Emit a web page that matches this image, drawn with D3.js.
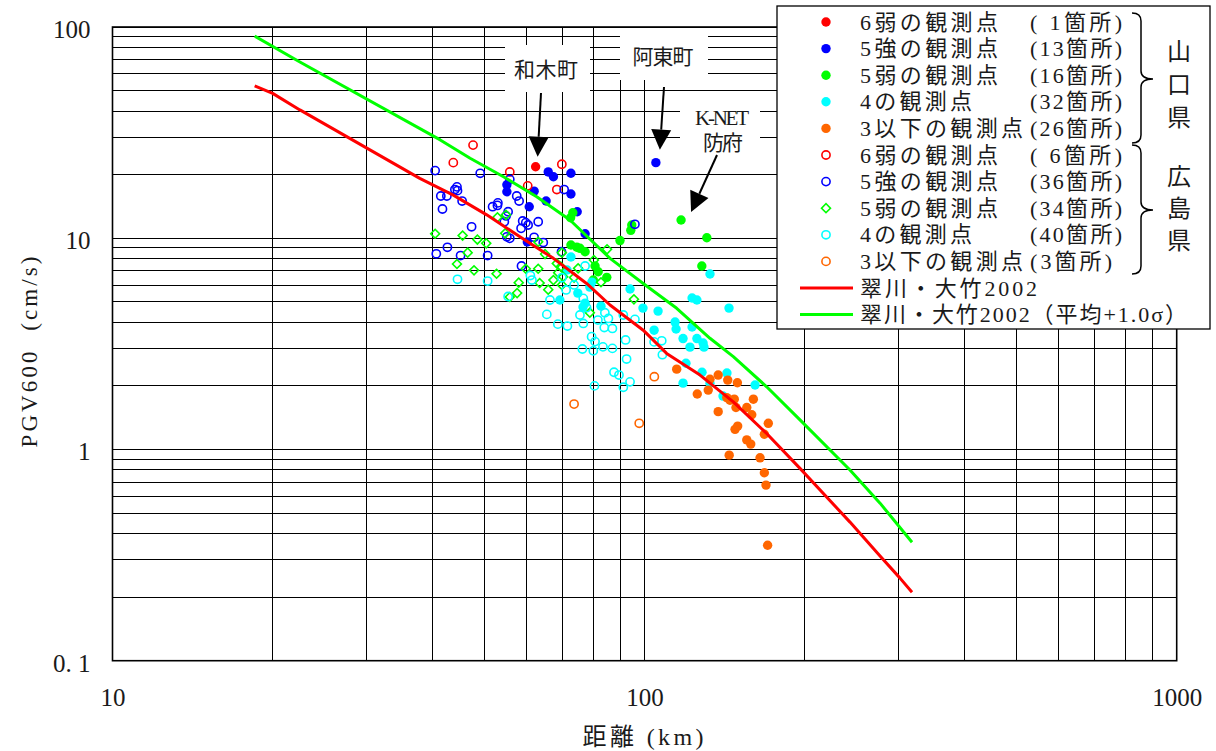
<!DOCTYPE html>
<html><head><meta charset="utf-8">
<script src="https://cdn.jsdelivr.net/npm/d3@7"></script>
<style>
html,body{margin:0;padding:0;background:#fff;}
svg{display:block;}
text{white-space:pre;}
</style></head><body>
<svg id="c" width="1216" height="751"></svg>
<script>
// ---------------- DATA ----------------
// [distance km, PGV600 cm/s]
const ymg6Jaku = [[62.4,21.8]];
const ymg5Kyo = [[65.9,20.6],[67.4,19.55],[72.7,20.3],[55.1,17.9],[55.1,16.6],[62.0,16.7],[72.7,16.2],[65.3,15.0],[60.7,14.1],[74.7,13.35],[77.3,10.5],[60.2,9.6],[105.0,22.8]];
const ymg5Jaku = [[73.3,13.2],[72.6,12.5],[89.9,9.75],[94.6,11.55],[94.2,10.9],[117.1,12.2],[130.9,10.05],[128.1,7.39],[72.7,9.29],[74.6,9.06],[75.6,8.96],[77.3,8.63],[80.7,7.39],[81.8,6.94],[84.9,6.53],[80.1,6.34]];
const ymg4 = [[72.7,8.15],[69.3,5.10],[74.9,5.50],[78.9,5.87],[79.6,6.20],[77.3,4.93],[76.6,4.72],[82.8,4.77],[93.9,5.75],[99.3,4.67],[106.0,4.52],[104.2,3.67],[114.1,4.01],[114.6,3.72],[122.8,3.80],[118.1,3.35],[125.4,3.35],[121.7,3.05],[128.8,3.19],[119.6,2.56],[128.2,2.32],[142.8,2.30],[118.1,2.06],[132.7,2.06],[140.4,1.79],[161.3,2.02],[132.7,6.77],[122.8,5.21],[125.4,5.10],[144.1,4.67],[129.3,3.05],[71.5,7.07]];
const ymg3 = [[114.9,2.40],[132.7,2.15],[137.5,2.25],[143.3,2.13],[149.4,2.07],[125.6,1.83],[131.7,1.91],[142.7,1.76],[144.7,1.71],[147.4,1.73],[148.5,1.58],[160.1,1.73],[155.6,1.58],[159.0,1.46],[137.5,1.51],[170.8,1.33],[149.6,1.29],[147.9,1.245],[167.9,1.18],[155.6,1.11],[158.3,1.06],[144.2,0.94],[164.8,0.913],[167.9,0.776],[169.1,0.678],[170.3,0.352]];
const hrs6Jaku = [[47.6,27.6],[43.7,22.8],[55.8,20.6],[60.3,17.7],[68.4,17.0],[69.9,22.4]];
const hrs5Kyo = [[40.4,20.9],[49.1,20.3],[55.8,19.0],[44.4,17.5],[44.0,17.0],[44.5,16.8],[41.4,15.85],[42.5,15.85],[45.4,15.0],[41.7,13.75],[57.5,15.85],[58.1,15.0],[51.8,14.1],[52.9,14.3],[55.4,13.35],[54.9,12.75],[54.5,11.97],[59.0,12.07],[59.8,11.85],[60.4,11.55],[58.6,11.14],[63.1,11.97],[47.3,11.33],[55.1,10.16],[55.8,9.99],[62.0,10.1],[64.5,9.54],[42.6,9.06],[40.6,8.44],[45.1,8.28],[50.7,8.28],[58.7,7.39],[70.6,17.0],[69.8,8.63],[95.9,11.64],[53.0,14.7]];
const hrs5Jaku = [[40.4,10.5],[45.5,10.3],[48.5,9.86],[50.4,9.46],[46.5,8.54],[44.4,7.55],[47.8,7.05],[52.7,6.79],[52.9,12.56],[54.9,12.9],[54.7,10.55],[63.1,9.62],[58.0,6.16],[57.6,5.50],[59.8,7.17],[63.1,7.17],[63.5,6.14],[65.9,5.71],[68.4,7.60],[69.6,7.33],[67.4,6.34],[70.3,6.57],[69.9,6.01],[73.7,6.51],[80.3,7.88],[82.8,6.19],[85.0,8.86],[69.9,8.54],[78.9,4.44],[95.5,5.14],[68.8,6.87],[65.0,8.41],[55.8,5.27],[75.0,7.2]];
const hrs4 = [[44.5,6.39],[50.7,6.27],[55.4,5.30],[61.0,6.66],[69.9,6.50],[71.2,5.69],[65.5,4.36],[68.7,3.92],[71.6,3.84],[77.3,7.39],[76.7,5.19],[75.6,4.33],[76.7,3.95],[84.2,4.44],[85.5,4.17],[91.2,4.33],[95.9,4.13],[84.0,3.78],[87.0,3.74],[79.5,3.42],[80.7,3.24],[83.5,3.06],[76.4,2.99],[80.1,2.93],[87.0,3.01],[92.1,3.30],[92.5,2.68],[87.6,2.32],[89.5,2.25],[93.9,2.09],[91.2,1.97],[80.5,2.00],[104.2,3.23],[107.7,3.27],[108.0,2.81],[77.8,4.69],[73.7,6.01],[81.7,4.10],[66.4,5.10],[61.4,6.34]];
const hrs3 = [[73.7,1.64],[104.3,2.21],[97.7,1.33]];
const meanLine = [[18.5,52.6],[20,48.5],[22.5,40.5],[37.8,19.2],[43.7,16.0],[50.5,12.9],[58.3,10.16],[67.4,8.03],[77.8,6.11],[86.1,4.83],[99.4,3.67],[110.0,2.85],[127.1,2.25],[146.8,1.68],[169.6,1.19],[195.9,0.814],[243.2,0.453],[277,0.313],[302,0.246],[318.1,0.211]];
const sigmaLine = [[18.5,90.6],[22.5,68.3],[41.3,29.2],[47.0,23.9],[54.3,19.55],[62.7,15.72],[72.4,12.2],[86.1,8.03],[99.4,6.11],[114.9,4.66],[132.7,3.36],[146.8,2.75],[169.6,1.98],[195.9,1.38],[243.2,0.80],[277,0.557],[318.1,0.364]];

const xTickValues = [10,100,1000];
const xTickLabels = ["10","100","1000"];
const yTickValues = [0.1,1,10,100];
const yTickLabels = ["0. 1","1","10","100"];
const legendLabels = ["6弱の観測点","5強の観測点","5弱の観測点","4の観測点","3以下の観測点","6弱の観測点","5強の観測点","5弱の観測点","4の観測点","3以下の観測点","翠川・大竹2002","翠川・大竹2002（平均+1.0σ）"];
const legendCounts = ["( 1箇所)","(13箇所)","(16箇所)","(32箇所)","(26箇所)","( 6箇所)","(36箇所)","(34箇所)","(40箇所)","(3箇所)","",""];
const regionLabels = ["山口県","広島県"];
const annLabels = [["和木町"],["阿東町"],["K-NET","防府"]];
const xTitle = "距離 (km)";
const yTitle = "PGV600  (cm/s)";

// ---------------- STYLE / LAYOUT ----------------
const FONT = "'Liberation Serif','Noto Sans CJK JP',serif";
const TXT = "#1a1a1a";
const RED="#ff0000", BLUE="#0000ff", GREEN="#00ff00", CYAN="#00ffff", ORANGE="#ff6600";

const svg = d3.select("#c");
const x = d3.scaleLog().domain([10,1000]).range([112.5,1176.7]);
const y = d3.scaleLog().domain([0.1,100]).range([660.7,27]);
const [X0,X1] = x.range(); const [Y0,Y1] = y.range();

// grid
const grid = svg.append("g").attr("shape-rendering","crispEdges").attr("stroke","#000").attr("stroke-width",1);
grid.selectAll("line.v").data(x.ticks()).join("line")
  .attr("x1",d=>x(d)).attr("x2",d=>x(d)).attr("y1",Y1).attr("y2",Y0);
grid.selectAll("line.h").data(y.ticks()).join("line")
  .attr("class","h").attr("y1",d=>y(d)).attr("y2",d=>y(d)).attr("x1",X0).attr("x2",X1);
svg.append("rect").attr("x",X0).attr("y",Y1).attr("width",X1-X0).attr("height",Y0-Y1)
  .attr("fill","none").attr("stroke","#000").attr("stroke-width",1.6);

// axes
const gx = svg.append("g").attr("transform",`translate(0,${Y0})`)
  .call(d3.axisBottom(x).tickValues(xTickValues).tickFormat((d,i)=>xTickLabels[i]).tickSize(0));
gx.select(".domain").remove();
gx.selectAll("text").attr("y",37).attr("dy",null).attr("dominant-baseline","central")
  .attr("font-size",25).attr("font-family",FONT).attr("fill",TXT);
const gy = svg.append("g").attr("transform",`translate(${X0},0)`)
  .call(d3.axisLeft(y).tickValues(yTickValues).tickFormat((d,i)=>yTickLabels[i]).tickSize(0));
gy.select(".domain").remove();
gy.selectAll("text").attr("x",-22).attr("dy",null).attr("y",2).attr("dominant-baseline","central")
  .attr("font-size",25).attr("font-family",FONT).attr("fill",TXT);

svg.append("text").attr("x",643).attr("y",737).attr("text-anchor","middle").attr("dominant-baseline","central")
  .attr("font-family",FONT).attr("font-size",24).attr("fill",TXT)
  .attr("textLength",121).attr("lengthAdjust","spacing").text(xTitle);
svg.append("text").attr("transform","translate(29,352) rotate(-90)").attr("text-anchor","middle").attr("dominant-baseline","central")
  .attr("font-family",FONT).attr("font-size",23).attr("fill",TXT)
  .attr("textLength",191).attr("lengthAdjust","spacing").text(yTitle);

// annotation boxes (white, hide grid)
const annLayout = [
  {box:[505,45,85,47], text:[[546,70,64]], target:ymg6Jaku[0], tipOff:[2,-10], tail:[541,93]},
  {box:[620,28,88,52], text:[[663,57,61]], target:ymg5Kyo[12], tipOff:[4,-13], tail:[664,87]},
  {box:[680,103,80,52], text:[[722,118,54],[723,143,40]], target:ymg5Jaku[5], tipOff:[10,-8], tail:[717,155]},
];
annLayout.forEach((a,i)=>{
  svg.append("rect").attr("x",a.box[0]).attr("y",a.box[1]).attr("width",a.box[2]).attr("height",a.box[3]).attr("fill","#fff");
  annLabels[i].forEach((t,j)=>{
    const p=a.text[j];
    svg.append("text").attr("x",p[0]).attr("y",p[1]).attr("text-anchor","middle").attr("dominant-baseline","central")
      .attr("font-family",FONT).attr("font-size",21).attr("fill",TXT)
      .attr("textLength",p[2]).attr("lengthAdjust","spacing").text(t);
  });
});

// markers
const series = [
  {data:ymg6Jaku,color:RED,type:"fill"},
  {data:ymg5Kyo,color:BLUE,type:"fill"},
  {data:ymg5Jaku,color:GREEN,type:"fill"},
  {data:ymg4,color:CYAN,type:"fill"},
  {data:ymg3,color:ORANGE,type:"fill"},
  {data:hrs6Jaku,color:RED,type:"ring"},
  {data:hrs5Kyo,color:BLUE,type:"ring"},
  {data:hrs5Jaku,color:GREEN,type:"diamond"},
  {data:hrs4,color:CYAN,type:"ring"},
  {data:hrs3,color:ORANGE,type:"ring"},
];
const symFill = d3.symbol().type(d3.symbolCircle).size(Math.PI*4.7*4.7)();
const symRing = d3.symbol().type(d3.symbolCircle).size(Math.PI*4.1*4.1)();
const symDia = d3.symbol().type(d3.symbolSquare).size(40)();
function styleMarker(sel,s){
  if(s.type==="fill") sel.attr("d",symFill).attr("fill",s.color).attr("stroke","none");
  else if(s.type==="ring") sel.attr("d",symRing).attr("fill","none").attr("stroke",s.color).attr("stroke-width",1.6);
  else sel.attr("d",symDia).attr("fill","none").attr("stroke",s.color).attr("stroke-width",1.6);
}
series.forEach(s=>{
  const g = svg.append("g");
  g.selectAll("path").data(s.data).join("path")
    .attr("transform",d=>`translate(${x(d[0])},${y(d[1])})${s.type==="diamond"?" rotate(45)":""}`)
    .call(sel=>styleMarker(sel,s));
});

// attenuation lines
const line = d3.line().x(d=>x(d[0])).y(d=>y(d[1]));
svg.append("path").datum(meanLine).attr("d",line).attr("fill","none").attr("stroke",RED).attr("stroke-width",3).attr("stroke-linejoin","round");
svg.append("path").datum(sigmaLine).attr("d",line).attr("fill","none").attr("stroke",GREEN).attr("stroke-width",3).attr("stroke-linejoin","round");

// arrows
annLayout.forEach(a=>{
  const tip=[x(a.target[0])+a.tipOff[0], y(a.target[1])+a.tipOff[1]];
  const t=a.tail; const dx=tip[0]-t[0], dy=tip[1]-t[1]; const L=Math.hypot(dx,dy);
  const ux=dx/L, uy=dy/L, hl=20, hw=10;
  const bx=tip[0]-ux*hl, by=tip[1]-uy*hl;
  svg.append("line").attr("x1",t[0]).attr("y1",t[1]).attr("x2",bx).attr("y2",by).attr("stroke","#000").attr("stroke-width",2);
  svg.append("path").attr("d",`M${tip[0]},${tip[1]}L${bx-uy*hw},${by+ux*hw}L${bx+uy*hw},${by-ux*hw}Z`).attr("fill","#000");
});

// legend
const lg = svg.append("g");
lg.append("rect").attr("x",777).attr("y",6).attr("width",433).attr("height",323).attr("fill","#fff").attr("stroke","#000").attr("stroke-width",1.3);
const rowY = i=>22+i*26.6;
const labelLen = [138,138,138,112,163,138,138,138,112,163,177,327];
const countLen = [92,92,92,92,92,92,92,92,92,82];
legendLabels.forEach((t,i)=>{
  if(i<series.length){
    const s=series[i];
    lg.append("path").attr("transform",`translate(826,${rowY(i)})${s.type==="diamond"?" rotate(45)":""}`).call(sel=>styleMarker(sel,s));
  } else {
    lg.append("line").attr("x1",800).attr("x2",853).attr("y1",rowY(i)).attr("y2",rowY(i))
      .attr("stroke",i===10?RED:GREEN).attr("stroke-width",3);
  }
  lg.append("text").attr("x",860).attr("y",rowY(i)).attr("dominant-baseline","central")
    .attr("font-family",FONT).attr("font-size",22).attr("fill",TXT)
    .attr("textLength",labelLen[i]).attr("lengthAdjust","spacing").text(t);
  if(legendCounts[i]){
    lg.append("text").attr("x",1030).attr("y",rowY(i)).attr("dominant-baseline","central")
      .attr("font-family",FONT).attr("font-size",22).attr("fill",TXT)
      .attr("textLength",countLen[i]).attr("lengthAdjust","spacing").text(legendCounts[i]);
  }
});
// braces
function brace(top,bot,mid){
  const x1=1132,x2=1141,xt=1153,r=8;
  return `M${x1},${top}Q${x2},${top} ${x2},${top+r}L${x2},${mid-r}Q${x2},${mid} ${xt},${mid}Q${x2},${mid} ${x2},${mid+r}L${x2},${bot-r}Q${x2},${bot} ${x1},${bot}`;
}
lg.append("path").attr("d",brace(13,143,79)).attr("fill","none").attr("stroke","#000").attr("stroke-width",1.5);
lg.append("path").attr("d",brace(145,274,210)).attr("fill","none").attr("stroke","#000").attr("stroke-width",1.5);
const regionY=[[52,85,118],[177,209,241]];
regionLabels.forEach((t,k)=>{
  Array.from(t).forEach((ch,j)=>{
    lg.append("text").attr("x",1179).attr("y",regionY[k][j]).attr("text-anchor","middle").attr("dominant-baseline","central")
      .attr("font-family",FONT).attr("font-size",24).attr("fill",TXT).text(ch);
  });
});
</script>
</body></html>
